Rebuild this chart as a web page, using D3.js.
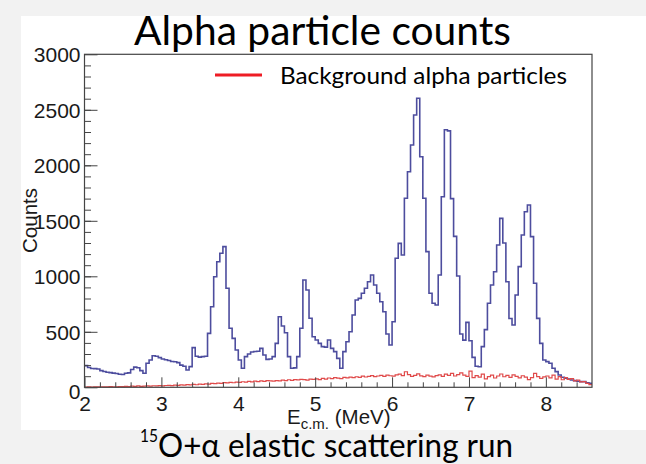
<!DOCTYPE html>
<html>
<head>
<meta charset="utf-8">
<script src="https://cdn.jsdelivr.net/npm/d3@7"></script>
<style>
  html, body { margin: 0; padding: 0; background: #f2f2f2; }
  svg { display: block; }
</style>
</head>
<body>
<svg id="chart" width="646" height="464"></svg>
<script>
// Histogram binning (MeV)
const binStart = 2.0;
const binWidth = 0.04;

// Alpha particle counts per bin, 2.00 – 8.60 MeV
const alphaCounts = [
  195, 178, 170, 168, 165, 150, 142, 135, 132, 128,
  125, 118, 115, 126, 130, 160, 182, 176, 150, 126,
  216, 246, 284, 280, 267, 255, 248, 242, 232, 230,
  222, 200, 190, 156, 186, 357, 280, 272, 276, 280,
  486, 726, 996, 1131, 1207, 1267, 892, 532, 441, 336,
  246, 171, 276, 300, 318, 322, 325, 351, 291, 252,
  255, 276, 396, 636, 552, 492, 276, 171, 175, 276,
  532, 967, 877, 622, 456, 426, 396, 366, 362, 426,
  351, 321, 261, 171, 321, 411, 501, 651, 786, 801,
  847, 892, 951, 1012, 922, 847, 771, 681, 480, 381,
  591, 1162, 1297, 1192, 1703, 1942, 2183, 2453, 2604, 2077,
  1703, 1222, 847, 757, 741, 1012, 1717, 2320, 2310, 1700,
  1360, 1003, 480, 425, 585, 420, 270, 190, 185, 366,
  520, 757, 922, 1041, 1282, 1522, 1300, 951, 620, 561,
  832, 1087, 1372, 1582, 1642, 1357, 937, 621, 396, 246,
  231, 216, 171, 141, 111, 90, 81, 75, 66, 60,
  55, 51, 51, 40, 36
];

// Background alpha particle counts per bin, same binning
const backgroundCounts = [
  2, 3, 2, 4, 3, 5, 4, 3, 6, 5, 4, 7, 6,
  8, 7, 10, 9, 12, 8, 11, 13, 10, 14, 12, 15,
  13, 16, 18, 15, 20, 17, 22, 19, 24, 21, 26, 23, 28,
  27, 31, 29, 35, 33, 38, 36, 42, 39, 45, 41, 47,
  44, 50, 47, 53, 49, 56, 52, 58, 54, 61, 57, 55, 60,
  58, 64, 61, 68, 63, 70, 66, 72, 69, 65, 74, 71,
  76, 70, 80, 74, 84, 78, 88, 82, 79, 90, 85, 92, 87,
  95, 89, 100, 93, 98, 105, 96, 102, 108, 99, 110, 104,
  101, 112, 118, 106, 140, 115, 98, 108, 121, 103, 96, 110, 100,
  94, 106, 112, 99, 118, 108, 125, 102, 115, 130, 109, 98,
  145, 88, 105, 92, 118, 76, 96, 110, 84, 102, 120, 95, 108,
  90, 112, 98, 85, 104, 92, 70, 88, 125, 96, 80, 94,
  102, 85, 110, 74, 96, 68, 88, 72,
  78, 58, 64, 48, 52, 35, 25
];

// Axis ticks
const xMajorTicks = [2, 3, 4, 5, 6, 7, 8];
const xMinorTicks = d3.range(2.2, 8.6, 0.2).map(v => +v.toFixed(1));
const yMajorTicks = [0, 500, 1000, 1500, 2000, 2500, 3000];
const yMinorTicks = d3.range(100, 3000, 100);

const titleText = "Alpha particle counts";
const legendText = "Background alpha particles";
const captionSup = "15";
const captionText = "O+\u03b1 elastic scattering run";

const svg = d3.select("#chart");
const plot = { left: 84.5, right: 592, top: 54.3, bottom: 387.3 };

const x = d3.scaleLinear().domain([2, 8.6]).range([plot.left, plot.right]);
const y = d3.scaleLinear().domain([0, 3000]).range([plot.bottom, plot.top]);

// page panels
svg.append("rect").attr("x", 0).attr("y", 0).attr("width", 646).attr("height", 464).attr("fill", "#f2f2f2");
svg.append("rect").attr("x", 21).attr("y", 16).attr("width", 625).attr("height", 414).attr("fill", "#ffffff");

// histogram outlines as step lines
function stepPoints(counts) {
  const pts = counts.map((v, i) => [binStart + i * binWidth, v]);
  pts.push([binStart + counts.length * binWidth, counts[counts.length - 1]]);
  return pts;
}
const stepLine = d3.line().x(d => x(d[0])).y(d => y(d[1])).curve(d3.curveStepAfter);

svg.append("path")
  .datum(stepPoints(alphaCounts))
  .attr("d", stepLine)
  .attr("fill", "none")
  .attr("stroke", "#4d4d9e")
  .attr("stroke-width", 1.6);

svg.append("path")
  .datum(stepPoints(backgroundCounts))
  .attr("d", stepLine)
  .attr("fill", "none")
  .attr("stroke", "#e04a4a")
  .attr("stroke-width", 1.2);

// frame
svg.append("rect")
  .attr("x", plot.left).attr("y", plot.top)
  .attr("width", plot.right - plot.left).attr("height", plot.bottom - plot.top)
  .attr("fill", "none").attr("stroke", "#444").attr("stroke-width", 1.2);

const labelFont = "'Liberation Sans', Arial, Helvetica, sans-serif";

// y axis: major and minor ticks pointing into the frame
const yAxis = svg.append("g").attr("transform", `translate(${plot.left},0)`)
  .call(d3.axisLeft(y).tickValues(yMajorTicks).tickSizeInner(-13).tickSizeOuter(0).tickPadding(4).tickFormat(d3.format("d")));
yAxis.select(".domain").remove();
yAxis.selectAll(".tick line").attr("stroke", "#444");
yAxis.selectAll(".tick text")
  .attr("font-family", labelFont).attr("font-size", 21).attr("fill", "#1a1a1a")
  .attr("dy", d => d === 0 ? "0.55em" : "0.36em");

const yMinor = svg.append("g").attr("transform", `translate(${plot.left},0)`)
  .call(d3.axisLeft(y).tickValues(yMinorTicks).tickSizeInner(-6.5).tickSizeOuter(0).tickFormat(""));
yMinor.select(".domain").remove();
yMinor.selectAll(".tick line").attr("stroke", "#444");

// x axis
const xAxis = svg.append("g").attr("transform", `translate(0,${plot.bottom})`)
  .call(d3.axisBottom(x).tickValues(xMajorTicks).tickSizeInner(-10).tickSizeOuter(0).tickPadding(9).tickFormat(d3.format("d")));
xAxis.select(".domain").remove();
xAxis.selectAll(".tick line").attr("stroke", "#444");
xAxis.selectAll(".tick text")
  .attr("font-family", labelFont).attr("font-size", 21).attr("fill", "#1a1a1a");

const xMinor = svg.append("g").attr("transform", `translate(0,${plot.bottom})`)
  .call(d3.axisBottom(x).tickValues(xMinorTicks.filter(v => !xMajorTicks.includes(v))).tickSizeInner(-5).tickSizeOuter(0).tickFormat(""));
xMinor.select(".domain").remove();
xMinor.selectAll(".tick line").attr("stroke", "#444");

// axis titles
svg.append("text")
  .attr("transform", "translate(36.5,188) rotate(-90)")
  .attr("text-anchor", "end")
  .attr("font-family", labelFont).attr("font-size", 20.5).attr("fill", "#1a1a1a")
  .text("Counts");

const xTitle = svg.append("text")
  .attr("x", 287).attr("y", 424)
  .attr("font-family", labelFont).attr("font-size", 20.5).attr("fill", "#1a1a1a");
xTitle.append("tspan").text("E");
xTitle.append("tspan").attr("font-size", 15).attr("dy", 5).text("c.m.");
xTitle.append("tspan").attr("dy", -5).text("\u00a0(MeV)");

// title
const uiFont = "Lato, 'Open Sans', sans-serif";
svg.append("text")
  .attr("x", 134).attr("y", 45.3)
  .attr("font-family", uiFont).attr("font-size", 40).attr("fill", "#000")
  .attr("textLength", 377).attr("lengthAdjust", "spacingAndGlyphs")
  .text(titleText);

// legend
svg.append("line")
  .attr("x1", 215).attr("x2", 262).attr("y1", 75).attr("y2", 75)
  .attr("stroke", "#ee1c25").attr("stroke-width", 3);
svg.append("text")
  .attr("x", 280).attr("y", 84)
  .attr("font-family", uiFont).attr("font-size", 23).attr("fill", "#000")
  .attr("textLength", 287).attr("lengthAdjust", "spacingAndGlyphs")
  .text(legendText);

// caption
svg.append("text")
  .attr("x", 140).attr("y", 442)
  .attr("font-family", uiFont).attr("font-size", 18).attr("fill", "#000")
  .attr("textLength", 18).attr("lengthAdjust", "spacingAndGlyphs")
  .text(captionSup);
svg.append("text")
  .attr("x", 158).attr("y", 456.7)
  .attr("font-family", uiFont).attr("font-size", 33).attr("fill", "#000")
  .attr("textLength", 355).attr("lengthAdjust", "spacingAndGlyphs")
  .text(captionText);
</script>
</body>
</html>
